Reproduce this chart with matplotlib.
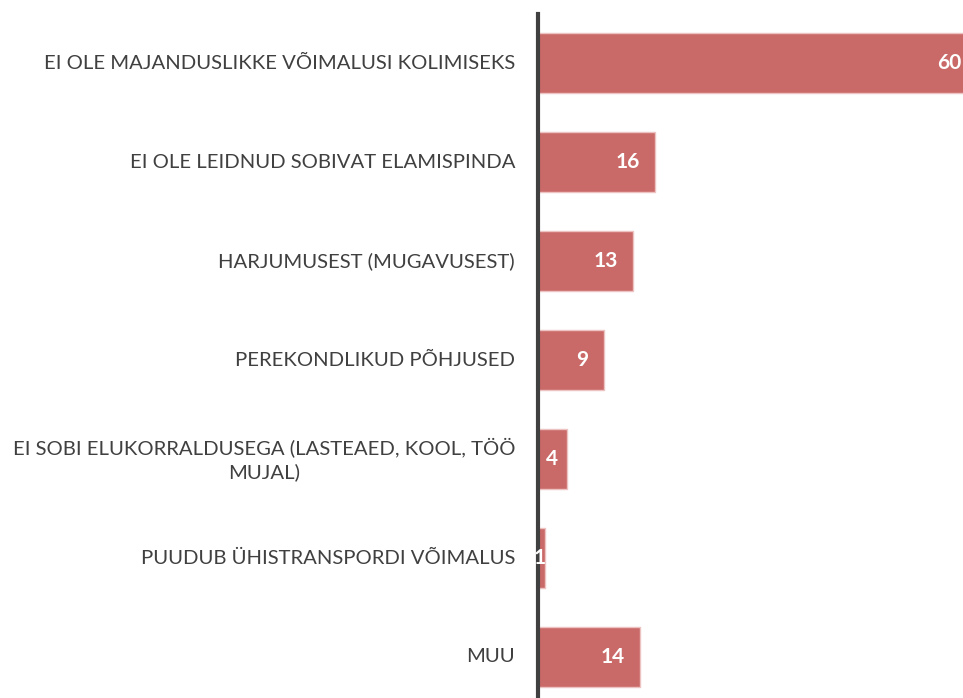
import matplotlib
matplotlib.use("Agg")
import matplotlib.pyplot as plt

categories = [
    "EI OLE MAJANDUSLIKKE VÕIMALUSI KOLIMISEKS",
    "EI OLE LEIDNUD SOBIVAT ELAMISPINDA",
    "HARJUMUSEST (MUGAVUSEST)",
    "PEREKONDLIKUD PÕHJUSED",
    "EI SOBI ELUKORRALDUSEGA (LASTEAED, KOOL, TÖÖ\nMUJAL)",
    "PUUDUB ÜHISTRANSPORDI VÕIMALUS",
    "MUU",
]
values = [60, 16, 13, 9, 4, 1, 14]

W, H = 963, 698
fig = plt.figure(figsize=(W / 100, H / 100), dpi=100)
left_px, right_px = 538, 976
top_px, bot_px = 13.5, 706.5
ax = fig.add_axes([left_px / W, (H - bot_px) / H, (right_px - left_px) / W, (bot_px - top_px) / H])
ax.set_facecolor("none")

y = list(range(len(categories)))
ax.barh(y, values, height=0.6, color="#C96A69", edgecolor="#EDC3C2", linewidth=1.0, zorder=2)
ax.set_xlim(0, 60)
ax.set_ylim(len(categories) - 0.5, -0.5)

for s in ["top", "right", "bottom"]:
    ax.spines[s].set_visible(False)
ax.spines["left"].set_color("#404040")
ax.spines["left"].set_linewidth(3)
ax.spines["left"].set_zorder(3)
ax.set_xticks([])
ax.set_yticks([])

font = "Lato"
fig.canvas.draw()
renderer = fig.canvas.get_renderer()
for i, (c, v) in enumerate(zip(categories, values)):
    ax.annotate(c, xy=(0, i), xytext=(-23, 0), textcoords="offset pixels",
                ha="right", va="center", multialignment="center",
                fontsize=14.6, color="#404040", family=font, linespacing=1.45)
    t = ax.annotate(str(v), xy=(v, i), xytext=(0, 0), textcoords="offset pixels",
                    ha="right", va="center", fontsize=15, color="white",
                    fontweight="bold", family=font, zorder=4, annotation_clip=False)
    tw = t.get_window_extent(renderer).width
    bw = ax.transData.transform((v, 0))[0] - ax.transData.transform((0, 0))[0]
    off = min(15, max(0, bw - tw - 8))
    t.set_position((-off, 0))

fig.savefig("out.png", dpi=100)
